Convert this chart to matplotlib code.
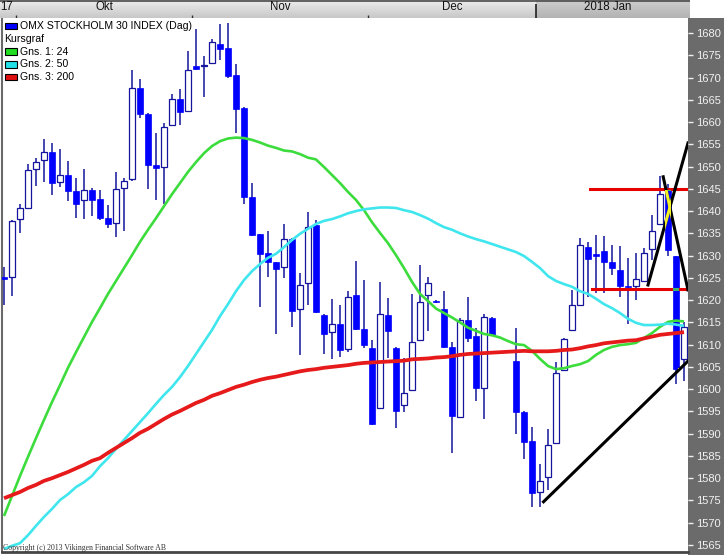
import matplotlib
matplotlib.use("Agg")
import matplotlib.pyplot as plt
from matplotlib.patches import Rectangle
from matplotlib.colors import LinearSegmentedColormap
import numpy as np

# OMX Stockholm 30, daglige kurser (ett slot per vardag, nan = stängt)
opens = [1625.0, 1625.1, 1638.2, 1640.8, 1649.4, 1651.4, 1653.2, 1646.5, 1648.0, 1644.5,
         1642.6, 1644.7, 1642.7, 1638.4, 1637.3, 1645.1, 1647.1, 1667.6, 1661.7, 1650.4,
         1650.0, 1659.3, 1665.2, 1662.5, 1672.6, 1672.5, 1673.2, 1677.5, 1676.6, 1670.5,
         1663.1, 1643.2, 1634.8, 1630.5, 1628.5, 1627.4, 1633.7, 1617.9, 1623.8, 1636.9,
         1616.7, 1612.8, 1614.6, 1609.0, 1621.2, 1613.5, 1609.2, 1595.7, 1616.7, 1609.2,
         1596.4, 1599.7, 1611.0, 1621.1, 1619.9, 1617.9, 1609.4, 1593.7, 1615.5, 1611.9,
         1600.2, 1615.9, np.nan, np.nan, 1606.3, 1594.8, 1588.4, 1577.0, 1580.3, 1587.9,
         1604.2, 1613.2, 1619.0, 1631.9, 1630.3, 1631.1, 1628.5, 1626.8, 1623.2, 1623.2,
         1624.3, 1631.4, 1637.0, 1644.7, 1630.0, 1606.7]
highs = [1627.4, 1638.0, 1641.7, 1650.6, 1651.9, 1656.2, 1655.2, 1653.9, 1651.2, 1647.4,
         1649.5, 1645.1, 1644.8, 1641.4, 1648.8, 1647.4, 1671.7, 1669.7, 1662.0, 1657.5,
         1659.7, 1666.3, 1667.4, 1676.0, 1681.0, 1674.9, 1678.7, 1682.0, 1682.3, 1673.0,
         1663.3, 1646.2, 1634.9, 1635.5, 1628.6, 1637.0, 1633.9, 1626.0, 1639.9, 1638.0,
         1616.9, 1620.2, 1618.9, 1622.0, 1628.8, 1624.5, 1611.0, 1624.1, 1620.4, 1609.4,
         1607.1, 1621.4, 1627.9, 1625.3, 1620.1, 1622.0, 1610.5, 1616.0, 1620.6, 1613.7,
         1616.8, 1616.3, np.nan, np.nan, 1613.7, 1595.0, 1591.6, 1583.2, 1591.0, 1606.2,
         1611.4, 1622.3, 1634.0, 1633.1, 1634.6, 1634.4, 1632.4, 1632.2, 1629.5, 1630.5,
         1631.6, 1639.1, 1647.9, 1646.0, 1630.0, 1615.0]
lows = [1619.0, 1621.0, 1635.0, 1640.8, 1645.7, 1646.6, 1643.5, 1645.5, 1642.3, 1638.4,
        1638.2, 1638.8, 1637.9, 1636.3, 1634.2, 1635.5, 1646.8, 1661.0, 1645.0, 1642.5,
        1641.6, 1659.0, 1659.3, 1662.3, 1671.7, 1665.7, 1673.0, 1673.9, 1669.8, 1657.5,
        1641.5, 1634.3, 1618.5, 1625.3, 1612.5, 1625.0, 1614.0, 1607.7, 1618.9, 1617.2,
        1607.8, 1606.7, 1607.3, 1608.4, 1613.3, 1609.2, 1592.0, 1595.5, 1607.1, 1591.2,
        1594.8, 1599.5, 1610.8, 1613.1, 1619.3, 1609.2, 1585.7, 1593.5, 1610.7, 1597.3,
        1593.2, 1612.0, np.nan, np.nan, 1589.9, 1584.3, 1573.6, 1573.6, 1577.3, 1587.7,
        1604.0, 1613.0, 1618.9, 1620.8, 1621.5, 1621.5, 1625.6, 1620.6, 1614.6, 1620.0,
        1624.2, 1629.0, 1636.9, 1630.0, 1601.2, 1601.9]
closes = [1624.8, 1637.8, 1640.6, 1649.2, 1651.1, 1653.2, 1646.2, 1648.0, 1644.4, 1641.7,
          1644.7, 1642.6, 1638.4, 1637.0, 1645.0, 1646.8, 1667.6, 1661.7, 1650.4, 1649.7,
          1658.8, 1665.1, 1662.3, 1671.8, 1672.0, 1672.9, 1677.9, 1676.3, 1670.4, 1663.0,
          1643.2, 1634.6, 1630.4, 1628.5, 1626.9, 1633.7, 1617.6, 1623.5, 1636.5, 1617.4,
          1612.5, 1614.6, 1608.8, 1620.8, 1613.5, 1610.0, 1592.1, 1616.8, 1613.1, 1595.2,
          1599.1, 1610.7, 1619.5, 1623.8, 1619.6, 1609.4, 1594.0, 1615.5, 1611.4, 1600.2,
          1616.1, 1612.2, np.nan, np.nan, 1594.8, 1588.2, 1576.6, 1579.4, 1587.5, 1603.6,
          1611.2, 1619.0, 1632.3, 1629.2, 1630.0, 1628.5, 1627.3, 1623.2, 1622.9, 1624.7,
          1630.5, 1635.5, 1643.8, 1631.3, 1604.5, 1614.0]

# glidande medelvärden
gns24 = [1571.5, 1576.0, 1580.5, 1584.8, 1589.0, 1593.1, 1597.1, 1600.9, 1604.8, 1608.3,
         1611.7, 1615.1, 1618.2, 1621.4, 1624.3, 1627.2, 1630.1, 1633.1, 1635.8, 1638.4,
         1641.1, 1643.8, 1646.3, 1648.8, 1651.0, 1653.0, 1654.6, 1655.7, 1656.3, 1656.5,
         1656.4, 1656.0, 1655.4, 1654.7, 1654.2, 1653.6, 1653.4, 1652.8, 1652.0, 1651.6,
         1649.9, 1648.1, 1646.3, 1644.3, 1642.5, 1640.2, 1637.5, 1635.1, 1632.8, 1630.1,
         1627.2, 1624.1, 1621.4, 1619.8, 1618.1, 1617.1, 1616.1, 1615.0, 1613.8, 1613.1,
         1612.4, 1612.1, 1611.6, 1610.8, 1610.1, 1609.9, 1608.6, 1606.8, 1605.2, 1604.5,
         1604.7, 1605.2, 1605.6, 1606.3, 1607.7, 1608.8, 1609.5, 1609.9, 1610.1, 1610.4,
         1611.5, 1612.6, 1614.0, 1615.1, 1615.4, 1615.2]
gns50 = [1564.1, 1564.8, 1565.4, 1567.2, 1569.3, 1571.3, 1573.1, 1575.1, 1576.4, 1578.0,
         1579.1, 1580.5, 1582.7, 1584.5, 1586.6, 1588.6, 1590.6, 1592.6, 1594.6, 1596.7,
         1598.7, 1600.5, 1602.7, 1605.2, 1607.9, 1610.6, 1613.3, 1616.4, 1619.1, 1622.0,
         1624.5, 1626.5, 1628.1, 1629.5, 1630.4, 1631.9, 1633.5, 1634.9, 1636.0, 1637.1,
         1637.8, 1638.2, 1638.8, 1639.5, 1640.0, 1640.4, 1640.6, 1640.8, 1640.8, 1640.7,
         1640.2, 1639.8, 1639.1, 1638.3, 1637.3, 1636.4, 1635.8, 1635.0, 1634.3, 1633.7,
         1633.2, 1632.6, 1632.0, 1631.4, 1630.8, 1629.9, 1628.6, 1627.2, 1625.4, 1624.3,
         1623.6, 1623.0, 1622.0, 1621.4, 1620.3, 1619.1, 1618.2, 1617.1, 1615.8, 1614.9,
         1614.4, 1614.4, 1614.5, 1614.7, 1614.5, 1614.2]
gns200 = [1575.5, 1576.2, 1576.9, 1577.8, 1578.5, 1579.4, 1580.0, 1580.7, 1581.4, 1582.2,
          1583.0, 1583.9, 1584.5, 1585.7, 1586.8, 1587.9, 1589.0, 1590.2, 1591.1, 1592.2,
          1593.3, 1594.3, 1595.1, 1596.0, 1596.9, 1597.6, 1598.5, 1599.1, 1599.8, 1600.5,
          1601.0, 1601.6, 1602.1, 1602.5, 1602.8, 1603.2, 1603.6, 1604.0, 1604.3, 1604.5,
          1604.8, 1605.0, 1605.2, 1605.4, 1605.7, 1605.9, 1606.0, 1606.1, 1606.2, 1606.3,
          1606.4, 1606.7, 1606.8, 1606.9, 1607.1, 1607.2, 1607.4, 1607.7, 1607.9, 1608.0,
          1608.1, 1608.2, 1608.3, 1608.4, 1608.5, 1608.6, 1608.5, 1608.5, 1608.5, 1608.6,
          1608.8, 1608.9, 1609.2, 1609.6, 1609.9, 1610.3, 1610.5, 1610.7, 1610.9, 1611.0,
          1611.4, 1611.8, 1612.2, 1612.4, 1612.6, 1612.8]

# ritade linjer (slot, kurs)
red_levels = [(73.25, 85.5, 1645.0), (73.5, 85.5, 1622.5)]
black_lines = [((67.44, 85.5), (1574.7, 1606.3)),
               ((80.5, 85.5), (1623.4, 1655.3)),
               ((82.4, 85.5), (1647.7, 1622.3))]

month_bounds = [1.5, 23.5, 45.5, 66.5]
month_names = ["Okt", "Nov", "Dec", "2018 Jan"]
legend_names = ["OMX STOCKHOLM 30 INDEX (Dag)", "Kursgraf", "Gns. 1: 24", "Gns. 2: 50", "Gns. 3: 200"]
legend_colors = ["#0000ff", None, "#22dd22", "#22e0e8", "#e01010"]

W, H = 724, 555
plt.rcParams["font.family"] = ["Liberation Sans", "DejaVu Sans"]
fig = plt.figure(figsize=(W / 100, H / 100), dpi=100, facecolor="white")

# grå skala till höger
panel = fig.add_axes([688 / W, 0, 36 / W, 537 / H])
panel.set_facecolor("#6b6b6b")
for s in panel.spines.values():
    s.set_visible(False)
panel.set_xticks([])
panel.set_yticks([])

ax = fig.add_axes([1.5 / W, 3 / H, 686.5 / W, 534 / H])
ax.set_xlim(-0.3125, 85.5)
ax.set_ylim(1563.42, 1683.37)

idx = np.arange(len(opens))
o = np.array(opens, float)
h = np.array(highs, float)
l = np.array(lows, float)
c = np.array(closes, float)
ok = ~np.isnan(o)
up = ok & (c >= o)
dn = ok & (c < o)

WICK = "#14149c"
ax.vlines(idx[ok], l[ok], h[ok], color=WICK, lw=1.1, zorder=2)
ax.bar(idx[up], np.maximum(c - o, 0.3)[up], bottom=o[up], width=0.72,
       facecolor="white", edgecolor=WICK, lw=0.9, zorder=3)
dbars = ax.bar(idx[dn], np.maximum(o - c, 0.3)[dn], bottom=c[dn], width=0.76,
               facecolor="#0000ff", edgecolor="#0000ff", lw=0.5, zorder=3)
dpatch = dict(zip(idx[dn], dbars.patches))

ax.plot(idx, gns24, color="#3cdc3c", lw=1.9, zorder=4, solid_capstyle="butt")
ax.plot(idx, gns50, color="#40e6ee", lw=1.9, zorder=4, solid_capstyle="butt")
ax.plot(idx, gns200, color="#e61a1a", lw=2.7, zorder=5, solid_capstyle="butt")

for x0, x1, y in red_levels:
    ax.plot([x0, x1], [y, y], color="#e60000", lw=2.2, zorder=6)
    for k in (83, 84):
        ln, = ax.plot([x0, x1], [y, y], color="#3cb46e", lw=2.2, zorder=6.5)
        ln.set_clip_path(dpatch[k])
for xs, ys in black_lines:
    ax.plot(xs, ys, color="black", lw=2.2, zorder=7)
    for k in (83, 84):
        ln, = ax.plot(xs, ys, color="#f0f028", lw=2.2, zorder=7.5)
        ln.set_clip_path(dpatch[k])

ax.yaxis.tick_right()
ax.set_yticks(np.arange(1565, 1681, 5))
ax.tick_params(axis="y", direction="out", length=3.5, width=1, pad=2.5,
               color="#f0f0f0", labelcolor="#f2f2f2", labelsize=8)
ax.set_xticks([])
for s in ("top", "right"):
    ax.spines[s].set_visible(False)
ax.spines["left"].set_color("#6a6a6a")
ax.spines["left"].set_linewidth(1.5)
ax.spines["bottom"].set_color("#454545")
ax.spines["bottom"].set_linewidth(2)

# datumlist överst
top = fig.add_axes([0, 1 - 18 / H, 690 / W, 18 / H])
grad = np.linspace(0, 1, 18)[:, None]
cm1 = LinearSegmentedColormap.from_list("g1", ["#ededed", "#c8c8c8"])
cm2 = LinearSegmentedColormap.from_list("g2", ["#cdcdcd", "#b4b4b4"])
top.imshow(grad, extent=(-0.5, month_bounds[-1], 18, 0), cmap=cm1, aspect="auto")
top.imshow(grad, extent=(month_bounds[-1], 85.75, 18, 0), cmap=cm2, aspect="auto")
top.set_xlim(-0.5, 85.75)
top.set_ylim(18, 0)
top.axis("off")
top.axhline(0.5, color="#4a4a4a", lw=1.2)
top.vlines(month_bounds[:-1], 14.5, 18, color="#303030", lw=1)
top.vlines(month_bounds[-1], 4, 18, color="#202020", lw=1.2)
ends = month_bounds + [84.5]
for i, name in enumerate(month_names):
    top.text((ends[i] + ends[i + 1]) / 2, 7.5, name, ha="center", va="center",
             fontsize=8.3, color="#111111")
top.text(-0.45, 7.5, "17", ha="left", va="center", fontsize=8.3, color="#111111")

# förklaring
for i, (name, col) in enumerate(zip(legend_names, legend_colors)):
    yc = 26 + 12.8 * i
    if col is None:
        fig.text(4 / W, 1 - yc / H, name, ha="left", va="center", fontsize=7.6)
        continue
    fig.add_artist(Rectangle((4.5 / W, 1 - (yc + 3.2) / H), 12.5 / W, 6.4 / H,
                             facecolor=col, edgecolor="black", lw=0.8,
                             transform=fig.transFigure))
    fig.text(20.5 / W, 1 - yc / H, name, ha="left", va="center", fontsize=7.6)

fig.text(3 / W, 1 - 552 / H, "Copyright (c) 2013 Vikingen Financial Software AB",
         family=["Liberation Serif", "DejaVu Serif"], fontsize=5.6, color="#333333",
         ha="left", va="bottom")

fig.savefig("out.png", dpi=100, facecolor="white")
